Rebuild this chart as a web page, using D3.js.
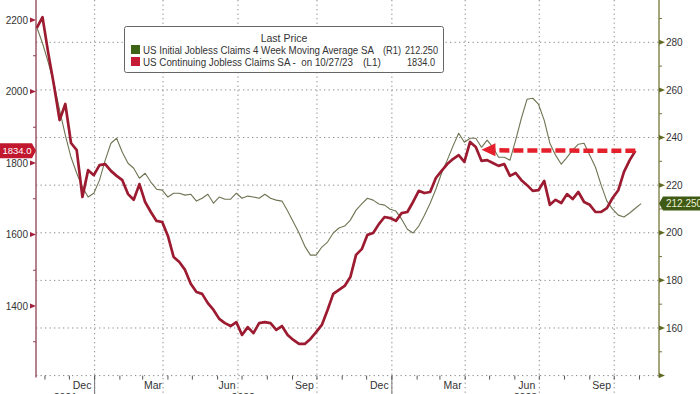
<!DOCTYPE html>
<html><head><meta charset="utf-8">
<script src="https://cdn.jsdelivr.net/npm/d3@7"></script>
<style>
html,body{margin:0;padding:0;background:#fff;overflow:hidden;}
svg{display:block;font-family:"Liberation Sans",Arial,sans-serif;}
</style></head><body>
<svg id="chart" width="700" height="394"></svg>
<script>
// ---------- data (thousands) ----------
const startDate = "2021-10-22";           // first weekly observation
const continuingClaims = [2178,2208,2108,2018,1920,1965,1856,1836,1705,1780,
 1766,1794,1797,1778,1764,1752,1713,1697,1741,1691,
 1663,1638,1635,1596,1537,1523,1501,1462,1439,1434,
 1408,1389,1364,1352,1344,1355,1319,1341,1324,1352,
 1355,1352,1333,1344,1319,1305,1294,1294,1308,1327,
 1347,1389,1434,1445,1456,1481,1543,1559,1599,1604,
 1629,1649,1646,1638,1660,1663,1691,1722,1716,1719,
 1758,1778,1797,1811,1822,1803,1859,1845,1806,1808,
 1800,1792,1797,1764,1772,1752,1738,1722,1724,1750,
 1683,1697,1688,1713,1699,1719,1691,1683,1663,1663,
 1674,1702,1724,1775,1808,1834];
const initialClaimsMA = [286.3,279.6,271.6,262.8,251.5,241.0,231.7,225.0,219.2,215.0,
 216.6,222.1,230.5,237.6,239.7,233.8,229.2,227.1,222.9,225.0,
 221.3,218.3,217.9,215.0,216.6,216.6,215.8,216.2,213.3,214.5,
 216.2,212.4,215.0,214.1,214.1,216.6,214.5,215.4,215.0,214.5,
 216.2,214.5,213.7,213.3,209.1,204.5,199.9,194.4,190.6,190.6,
 194.0,196.1,199.9,202.0,202.8,205.3,209.5,212.1,214.5,213.7,
 212.1,211.6,209.9,209.1,205.7,201.5,199.9,202.8,207.4,212.4,
 218.3,225.0,230.5,236.4,241.8,238.0,239.7,239.7,235.9,238.9,
 235.9,231.7,231.7,230.5,238.9,248.1,256.1,256.5,254.0,247.3,
 237.6,232.6,228.8,231.7,234.7,237.2,237.6,232.6,227.5,220.0,
 213.3,209.9,207.4,206.6,208.3,210.3,212.25];
const lastContinuing = "1834.0";
const lastInitial = "212.250";
const leftTicks = [1400,1600,1800,2000,2200];
const leftMinor = [1300,1500,1700,1900,2100];
const rightTicks = [160,180,200,220,240,260,280];
const rightMinor = [150,170,190,210,230,250,270,290];
const gridRight = [140,160,180,200,220,240,260,280];
const monthLabels = ["Dec","Mar","Jun","Sep","Dec","Mar","Jun","Sep"];
const monthLabelDates = ["2021-12-16","2022-03-13","2022-06-12","2022-09-15","2022-12-16","2023-03-16","2023-06-15","2023-09-15"];
const yearLabels = ["2021","2022","2023"];
const quarterDates = ["2022-01-01","2022-03-26","2022-06-26","2022-10-01","2023-01-01","2023-04-01","2023-07-01","2023-10-01"];
const yearStarts = ["2022-01-01","2023-01-01"];
const xDomain = ["2021-10-21","2023-11-25"];
const arrowTipDate = "2023-04-21";
const legendTitle = "Last Price";
const legendNames = ["US Initial Jobless Claims 4 Week Moving Average SA","US Continuing Jobless Claims SA -  on 10/27/23"];
const legendAxes = ["(R1)","(L1)"];
const legendValues = ["212.250","1834.0"];

// ---------- setup ----------
const parse = d3.timeParse("%Y-%m-%d");
const t0 = parse(startDate);
const redData = continuingClaims.map((v,i)=>({d:d3.timeDay.offset(t0,7*i),v}));
const grnData = initialClaimsMA.map((v,i)=>({d:d3.timeDay.offset(t0,7*i),v}));

const L = 36, R = 659, B = 375.6;
const svg = d3.select("#chart");
const x = d3.scaleTime().domain(xDomain.map(parse)).range([L,R]);
const yL = d3.scaleLinear().domain([1400,2200]).range([306,20]);
const yR = d3.scaleLinear().domain([140,280]).range([375.6,42.3]);

const RED = "#9c1b31", GRN = "#6f7452", GRID="#8a8a8a";

// gridlines
svg.append("g").selectAll("line").data(gridRight).join("line")
  .attr("x1",L).attr("x2",R).attr("y1",d=>yR(d)).attr("y2",d=>yR(d))
  .attr("stroke",GRID).attr("stroke-width",1).attr("stroke-dasharray","1.3,3.2");
svg.append("g").selectAll("line").data(quarterDates.map(parse)).join("line")
  .attr("x1",d=>x(d)).attr("x2",d=>x(d)).attr("y1",0).attr("y2",394)
  .attr("stroke",GRID).attr("stroke-width",1).attr("stroke-dasharray","1.3,3.2");
// year separators below axis
svg.append("g").selectAll("line").data(yearStarts.map(parse)).join("line")
  .attr("x1",d=>x(d)).attr("x2",d=>x(d)).attr("y1",B).attr("y2",394)
  .attr("stroke","#777").attr("stroke-width",1);

// month ticks
const months = d3.timeMonth.range(parse(xDomain[0]), parse(xDomain[1]));
svg.append("g").selectAll("line").data(months).join("line")
  .attr("x1",d=>x(d)).attr("x2",d=>x(d)).attr("y1",B).attr("y2",B+4)
  .attr("stroke","#555").attr("stroke-width",1);

// bottom axis labels
const xAxis = d3.axisBottom(x).tickValues(monthLabelDates.map(parse)).tickSize(0).tickPadding(0)
  .tickFormat((d,i)=>monthLabels[i]);
const gx = svg.append("g").attr("transform",`translate(0,${B})`).call(xAxis);
gx.select(".domain").remove();
gx.selectAll("text").attr("dy",null).attr("y",13).attr("font-size",10.5).attr("fill","#333")
  .attr("font-family","Liberation Sans, Arial, sans-serif");
const yearBounds = [parse(xDomain[0]), ...yearStarts.map(parse), parse(xDomain[1])];
svg.append("g").selectAll("text").data(yearLabels).join("text")
  .attr("x",(d,i)=>(x(yearBounds[i])+x(yearBounds[i+1]))/2).attr("y",401)
  .attr("text-anchor","middle").attr("font-size",10.5).attr("fill","#333").text(d=>d);

// left axis
const yAxisL = d3.axisLeft(yL).tickValues(leftTicks).tickSize(0).tickPadding(8).tickFormat(d3.format("d"));
const gl = svg.append("g").attr("transform",`translate(${L},0)`).call(yAxisL);
gl.select(".domain").remove();
gl.selectAll("text").attr("font-size",10).attr("fill","#333").attr("font-family","Liberation Sans, Arial, sans-serif");
svg.append("line").attr("x1",L).attr("x2",L).attr("y1",0).attr("y2",B+2).attr("stroke","#8e4050").attr("stroke-width",1.3);
svg.append("g").selectAll("path").data(leftTicks).join("path")
  .attr("d",d=>`M${L-6},${yL(d)-2.5}L${L},${yL(d)}L${L-6},${yL(d)+2.5}Z`).attr("fill","#a3203a");
svg.append("g").selectAll("line").data(leftMinor).join("line")
  .attr("x1",L-3).attr("x2",L).attr("y1",d=>yL(d)).attr("y2",d=>yL(d)).attr("stroke","#8e4050");

// right axis
const yAxisR = d3.axisRight(yR).tickValues(rightTicks).tickSize(0).tickPadding(7).tickFormat(d3.format("d"));
const gr = svg.append("g").attr("transform",`translate(${R},0)`).call(yAxisR);
gr.select(".domain").remove();
gr.selectAll("text").attr("font-size",10).attr("fill","#333").attr("font-family","Liberation Sans, Arial, sans-serif");
svg.append("line").attr("x1",R).attr("x2",R).attr("y1",0).attr("y2",B+2).attr("stroke","#76753a").attr("stroke-width",1.3);
svg.append("g").selectAll("path").data(rightTicks.concat([140])).join("path")
  .attr("d",d=>`M${R},${yR(d)-2.5}L${R+6},${yR(d)}L${R},${yR(d)+2.5}Z`).attr("fill","#5f6a22");
svg.append("g").selectAll("line").data(rightMinor).join("line")
  .attr("x1",R).attr("x2",R+3).attr("y1",d=>yR(d)).attr("y2",d=>yR(d)).attr("stroke","#76753a");

// series
svg.append("path").datum(grnData)
  .attr("d",d3.line().x(d=>x(d.d)).y(d=>yR(d.v)))
  .attr("fill","none").attr("stroke",GRN).attr("stroke-width",1.1).attr("stroke-linejoin","round");
svg.append("path").datum(redData)
  .attr("d",d3.line().x(d=>x(d.d)).y(d=>yL(d.v)))
  .attr("fill","none").attr("stroke",RED).attr("stroke-width",2.7).attr("stroke-linejoin","round");

// dashed arrow
const lastR = redData[redData.length-1];
const ay = yL(+lastContinuing);
const tipX = x(parse(arrowTipDate));
svg.append("line").attr("x1",x(lastR.d)).attr("x2",tipX+13).attr("y1",ay).attr("y2",ay-0.5)
  .attr("stroke","#e3202b").attr("stroke-width",4.5).attr("stroke-dasharray","10,4");
svg.append("path").attr("d",`M${tipX},${ay-1}L${tipX+14},${ay-7.5}L${tipX+14},${ay+5.5}Z`).attr("fill","#e3202b");

// last value labels
svg.append("path").attr("d",`M0,${ay-7.5}H32L36,${ay}L32,${ay+7.5}H0Z`).attr("fill","#c1172f");
svg.append("text").attr("x",17).attr("y",ay+3.5).attr("text-anchor","middle").attr("font-size",9.5)
  .attr("fill","#fff").text(lastContinuing);
const gy = yR(+lastInitial);
svg.append("path").attr("d",`M${R},${gy}L${R+4},${gy-7}H700V${gy+7}H${R+4}Z`).attr("fill","#3f5a14");
svg.append("text").attr("x",666).attr("y",gy+3.5).attr("font-size",10)
  .attr("fill","#eef0d8").text(lastInitial);

// legend
const lg = svg.append("g");
lg.append("rect").attr("x",124.5).attr("y",26.5).attr("width",319).attr("height",46).attr("rx",2)
  .attr("fill","#fff").attr("stroke","#666").attr("stroke-width",1);
lg.append("text").attr("x",284).attr("y",42).attr("text-anchor","middle").attr("font-size",10.5)
  .attr("fill","#333").text(legendTitle);
const swCol = ["#3d6415","#c41a33"];
const rowY = [54,66];
const nameW = [231,210];
const axX = [383,363];
const valX = [405,407];
const valW = [33,28];
legendNames.forEach((n,i)=>{
  lg.append("rect").attr("x",131).attr("y",rowY[i]-9).attr("width",9).attr("height",9).attr("fill",swCol[i]);
  lg.append("text").attr("x",143).attr("y",rowY[i]).attr("font-size",10).attr("fill","#333")
    .attr("textLength",nameW[i]).attr("lengthAdjust","spacingAndGlyphs")
    .style("white-space","pre").text(n);
  lg.append("text").attr("x",axX[i]).attr("y",rowY[i]).attr("font-size",10).attr("fill","#333")
    .attr("textLength",18).attr("lengthAdjust","spacingAndGlyphs").text(legendAxes[i]);
  lg.append("text").attr("x",valX[i]).attr("y",rowY[i]).attr("font-size",10).attr("fill","#333")
    .attr("textLength",valW[i]).attr("lengthAdjust","spacingAndGlyphs").text(legendValues[i]);
});
</script>
</body></html>
